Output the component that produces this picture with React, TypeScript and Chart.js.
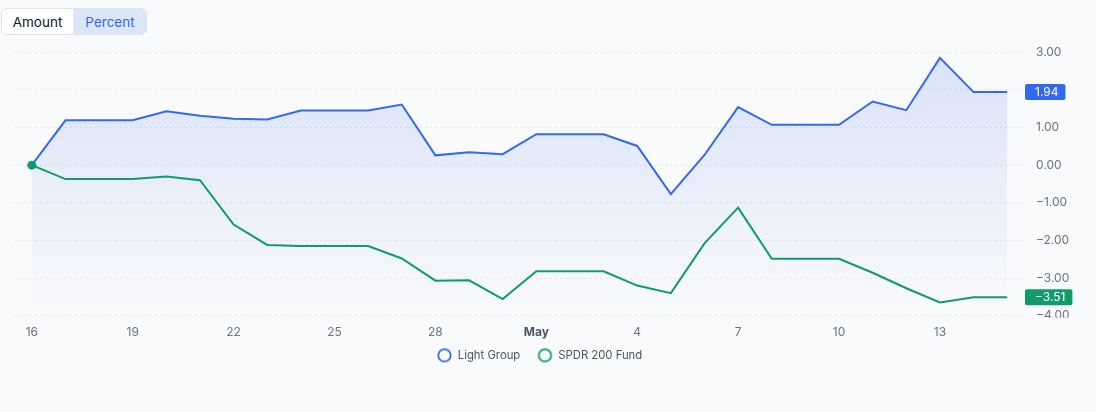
import React, { useEffect, useRef } from "react";
import { Chart, registerables } from "chart.js";

Chart.register(...registerables);

const days = [
  "16", "17", "18", "19", "20", "21", "22", "23", "24", "25", "26", "27", "28", "29", "30",
  "May", "2", "3", "4", "5", "6", "7", "8", "9", "10", "11", "12", "13", "14", "15",
];
const lightGroup = [
  0, 1.19, 1.19, 1.19, 1.43, 1.31, 1.23, 1.21, 1.45, 1.45, 1.45, 1.61, 0.26, 0.34, 0.29,
  0.82, 0.82, 0.82, 0.51, -0.77, 0.27, 1.54, 1.07, 1.07, 1.07, 1.69, 1.46, 2.85, 1.94, 1.94,
];
const spdr = [
  0, -0.37, -0.37, -0.37, -0.3, -0.4, -1.58, -2.12, -2.15, -2.15, -2.15, -2.48, -3.07, -3.06, -3.56,
  -2.82, -2.82, -2.82, -3.2, -3.4, -2.08, -1.13, -2.49, -2.49, -2.49, -2.86, -3.27, -3.65, -3.51, -3.51,
];
const seriesNames = ["Light Group", "SPDR 200 Fund"];

const BLUE = "#3568f0";
const GREEN = "#129a6c";
const FONT = "Inter";

const fmt = (v: number) => v.toFixed(2).replace("-", "\u2212");

// hollow circle used as legend marker (sits right of the box centre)
const ring = (color: string) => {
  const c = document.createElement("canvas");
  c.width = 24;
  c.height = 16;
  const g = c.getContext("2d")!;
  g.strokeStyle = color;
  g.lineWidth = 1.8;
  g.beginPath();
  g.arc(15.5, 8, 6.2, 0, Math.PI * 2);
  g.stroke();
  return c;
};

// last value badges on the right axis
const badgePlugin = {
  id: "badges",
  afterDraw(chart: any) {
    const { ctx, scales } = chart;
    const y = scales.y;
    ctx.save();
    ctx.font = `12px ${FONT}`;
    ctx.textBaseline = "middle";
    chart.data.datasets.forEach((ds: any) => {
      const v = ds.data[ds.data.length - 1];
      const py = y.getPixelForValue(v);
      const text = fmt(v);
      const w = ctx.measureText(text).width + 17;
      const x0 = chart.chartArea.right + 1;
      ctx.fillStyle = ds.borderColor;
      ctx.beginPath();
      ctx.roundRect(x0, py - 8, w, 16, 2);
      ctx.fill();
      ctx.fillStyle = "#ffffff";
      ctx.fillText(text, x0 + 10, py + 0.5);
    });
    ctx.restore();
  },
  afterLayout(chart: any) {
    // legend sits a little left of the canvas centre
    chart.legend.left -= 19.5;
    chart.legend.right -= 19.5;
    // y labels are cut off just under the plot area
    const y = chart.scales.y;
    if (y._clipped) return;
    const orig = y.drawLabels.bind(y);
    y.drawLabels = (area: any) => {
      const c = chart.ctx;
      c.save();
      c.beginPath();
      c.rect(0, 0, chart.width, chart.chartArea.bottom + 2);
      c.clip();
      orig(area);
      c.restore();
    };
    y._clipped = true;
  },
};

const App = () => {
  const canvasRef = useRef<HTMLCanvasElement | null>(null);
  const chartRef = useRef<Chart | null>(null);

  useEffect(() => {
    document.body.style.margin = "0";
    document.body.style.background = "#f9fafb";
    if (chartRef.current) chartRef.current.destroy();
    const ctx = canvasRef.current?.getContext("2d");
    if (!ctx) return;

    chartRef.current = new Chart(ctx, {
      type: "line",
      data: {
        labels: days,
        datasets: [
          {
            label: seriesNames[0],
            data: lightGroup,
            borderColor: BLUE,
            borderWidth: 2,
            pointRadius: 0,
            tension: 0,
            fill: "start",
            order: 1,
            backgroundColor: (c: any) => {
              const area = c.chart.chartArea;
              if (!area) return "rgba(53,104,240,0.1)";
              const g = c.chart.ctx.createLinearGradient(0, area.top, 0, area.bottom);
              g.addColorStop(0, "rgba(53,104,240,0.16)");
              g.addColorStop(1, "rgba(53,104,240,0.0)");
              return g;
            },
          },
          {
            label: seriesNames[1],
            data: spdr,
            borderColor: GREEN,
            backgroundColor: GREEN,
            borderWidth: 2,
            pointRadius: (c: any) => (c.dataIndex === 0 ? 4.5 : 0),
            pointBorderWidth: 0,
            tension: 0,
            fill: false,
            order: 0,
          },
        ],
      },
      options: {
        animation: false,
        responsive: true,
        maintainAspectRatio: false,
        layout: { padding: { left: 15, top: 7, right: 0, bottom: 0 } },
        plugins: {
          tooltip: { enabled: false },
          legend: {
            position: "bottom",
            labels: {
              usePointStyle: true,
              pointStyleWidth: 22.35,
              boxHeight: 12,
              padding: 10,
              color: "#4b5563",
              font: { family: FONT, size: 11.3 },
              generateLabels: (chart: any) =>
                chart.data.datasets.map((ds: any, i: number) => ({
                  text: ds.label,
                  fillStyle: "rgba(0,0,0,0)",
                  strokeStyle: ds.borderColor,
                  lineWidth: 0,
                  pointStyle: ring(ds.borderColor),
                  fontColor: "#4b5563",
                  datasetIndex: i,
                  hidden: false,
                })),
            },
          },
        },
        scales: {
          x: {
            type: "category",
            offset: true,
            grid: { display: false, drawTicks: false },
            border: { display: false },
            afterFit: (s: any) => {
              s.height = 24;
            },
            ticks: {
              autoSkip: false,
              maxRotation: 0,
              padding: 9,
              callback: (_v: any, i: number) => (i % 3 === 0 ? days[i] : null),
              color: (c: any) => (c.tick && c.tick.label === "May" ? "#4b5563" : "#6b7280"),
              font: (c: any) => ({
                family: FONT,
                size: 12,
                weight: c.tick && c.tick.label === "May" ? "bold" : "normal",
              }),
            },
          },
          y: {
            position: "right",
            min: -4,
            max: 3,
            afterFit: (s: any) => {
              s.width = 72;
            },
            grid: { color: "#e3e6eb", lineWidth: 1, drawTicks: false },
            border: { display: false, dash: [2, 3] },
            ticks: {
              stepSize: 1,
              padding: 12,
              color: "#6b7280",
              font: { family: FONT, size: 12 },
              callback: (v: any) => fmt(Number(v)),
            },
          },
        },
      },
      plugins: [badgePlugin],
    } as any);

    return () => {
      if (chartRef.current) {
        chartRef.current.destroy();
        chartRef.current = null;
      }
    };
  }, []);

  const btn: React.CSSProperties = {
    width: 72,
    height: 25,
    border: "none",
    fontFamily: FONT,
    fontSize: 13.5,
    padding: 0,
    cursor: "pointer",
  };

  return (
    <div style={{ position: "relative", width: 1096, height: 412, background: "#f9fafb", fontFamily: FONT }}>
      <div
        style={{
          position: "absolute",
          left: 1,
          top: 8,
          display: "flex",
          border: "1px solid #dfe3ea",
          borderRadius: 6,
          overflow: "hidden",
        }}
      >
        <button style={{ ...btn, background: "#ffffff", color: "#111827", borderRight: "1px solid #e5e7eb" }}>
          Amount
        </button>
        <button style={{ ...btn, background: "#dde6f8", color: "#3568f0" }}>Percent</button>
      </div>
      <div style={{ position: "absolute", left: 0, top: 33, width: 1096, height: 338 }}>
        <canvas ref={canvasRef} />
      </div>
    </div>
  );
};

export default App;
